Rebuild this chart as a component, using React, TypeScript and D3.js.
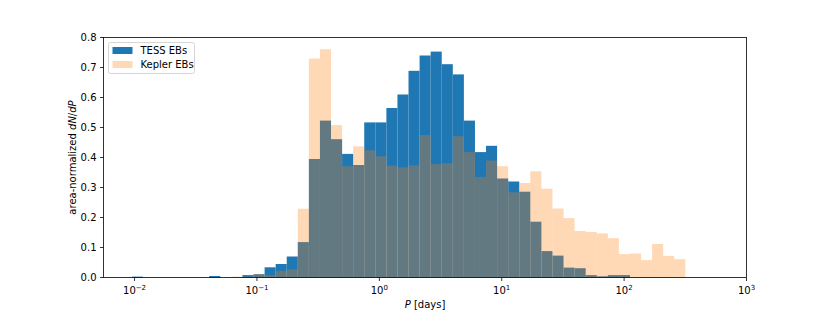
import React from 'react'
import * as d3 from 'd3'

// log10 bin range shared by both histograms
const binLo = -2.023
const binHi = 2.5
const nBins = 50

// area-normalized dN/dP per bin
const tessValues = [
  0.003, 0, 0, 0, 0, 0, 0, 0.005, 0, 0,
  0.008, 0.011, 0.034, 0.045, 0.07, 0.118, 0.395, 0.523, 0.461, 0.412,
  0.375, 0.517, 0.517, 0.565, 0.61, 0.689, 0.74, 0.753, 0.711, 0.677,
  0.523, 0.418, 0.439, 0.33, 0.32, 0.286, 0.186, 0.088, 0.073, 0.033,
  0.031, 0.008, 0.004, 0.008, 0.008, 0, 0, 0, 0, 0,
]
const keplerValues = [
  0, 0, 0, 0, 0, 0, 0, 0, 0, 0.003,
  0.003, 0.011, 0.008, 0.022, 0.027, 0.229, 0.73, 0.761, 0.508, 0.371,
  0.437, 0.424, 0.404, 0.373, 0.367, 0.374, 0.475, 0.378, 0.381, 0.471,
  0.418, 0.335, 0.39, 0.371, 0.284, 0.315, 0.354, 0.296, 0.23, 0.198,
  0.155, 0.152, 0.147, 0.131, 0.078, 0.08, 0.058, 0.112, 0.072, 0.061,
]

const xTickExps = [-2, -1, 0, 1, 2, 3]
const yTicks = [0, 0.1, 0.2, 0.3, 0.4, 0.5, 0.6, 0.7, 0.8]
const seriesNames = ['TESS EBs', 'Kepler EBs']

const W = 830
const H = 312
const left = 103.5
const right = 746.5
const top = 37.5
const bottom = 277.5
const font = 'DejaVu Sans, sans-serif'

const edges = d3.range(nBins + 1).map((i) => Math.pow(10, binLo + (i * (binHi - binLo)) / nBins))

const x = d3.scaleLog().domain([Math.pow(10, -2.2537), 1000]).range([left, right])
const y = d3.scaleLinear().domain([0, 0.8]).range([bottom, top])

const Bars = ({ values, fill, opacity }: { values: number[]; fill: string; opacity: number }) => (
  <g fill={fill} fillOpacity={opacity}>
    {values.map((v, i) =>
      v > 0 ? (
        <rect
          key={i}
          x={x(edges[i])}
          width={x(edges[i + 1]) - x(edges[i])}
          y={y(v)}
          height={y(0) - y(v)}
        />
      ) : null
    )}
  </g>
)

export default function App() {
  return (
    <svg width={W} height={H} style={{ display: 'block', position: 'absolute', left: 0, top: 0 }} fontFamily={font}>
      <rect width={W} height={H} fill="#fff" />
      <Bars values={tessValues} fill="#1f77b4" opacity={1} />
      <Bars values={keplerValues} fill="#ff7f0e" opacity={0.3} />

      {/* spines */}
      <rect x={left} y={top} width={right - left} height={bottom - top} fill="none" stroke="#000" strokeWidth={0.8} />

      {/* y axis */}
      {yTicks.map((t) => (
        <g key={t}>
          <line x1={left - 3.5} x2={left} y1={y(t)} y2={y(t)} stroke="#000" strokeWidth={0.8} />
          <text x={left - 7} y={y(t)} dy="0.35em" textAnchor="end" fontSize={10}>
            {t.toFixed(1)}
          </text>
        </g>
      ))}
      <text
        transform={`translate(72,${(top + bottom) / 2}) rotate(-90)`}
        textAnchor="middle"
        dominantBaseline="central"
        fontSize={10}
      >
        area-normalized <tspan fontStyle="italic">dN</tspan>/<tspan fontStyle="italic">dP</tspan>
      </text>

      {/* x axis */}
      {xTickExps.map((e) => (
        <g key={e}>
          <line x1={x(Math.pow(10, e))} x2={x(Math.pow(10, e))} y1={bottom} y2={bottom + 3.5} stroke="#000" strokeWidth={0.8} />
          <text x={x(Math.pow(10, e))} y={bottom + 16} textAnchor="middle" fontSize={10}>
            10<tspan fontSize={7} dy={-4}>{e < 0 ? '\u2212' + Math.abs(e) : e}</tspan>
          </text>
        </g>
      ))}
      <text x={(left + right) / 2} y={bottom + 30} textAnchor="middle" fontSize={10}>
        <tspan fontStyle="italic">P</tspan> [days]
      </text>

      {/* legend */}
      <g>
        <rect x={108.5} y={42.5} width={86} height={31} rx={2} fill="#fff" fillOpacity={0.8} stroke="#cccccc" strokeWidth={0.8} />
        {seriesNames.map((name, i) => (
          <g key={name} transform={`translate(112.5,${47 + i * 14})`}>
            <rect width={20} height={7} fill={i === 0 ? '#1f77b4' : '#ff7f0e'} fillOpacity={i === 0 ? 1 : 0.3} />
            <text x={28} y={3.5} dy="0.35em" fontSize={10}>
              {name}
            </text>
          </g>
        ))}
      </g>
    </svg>
  )
}
